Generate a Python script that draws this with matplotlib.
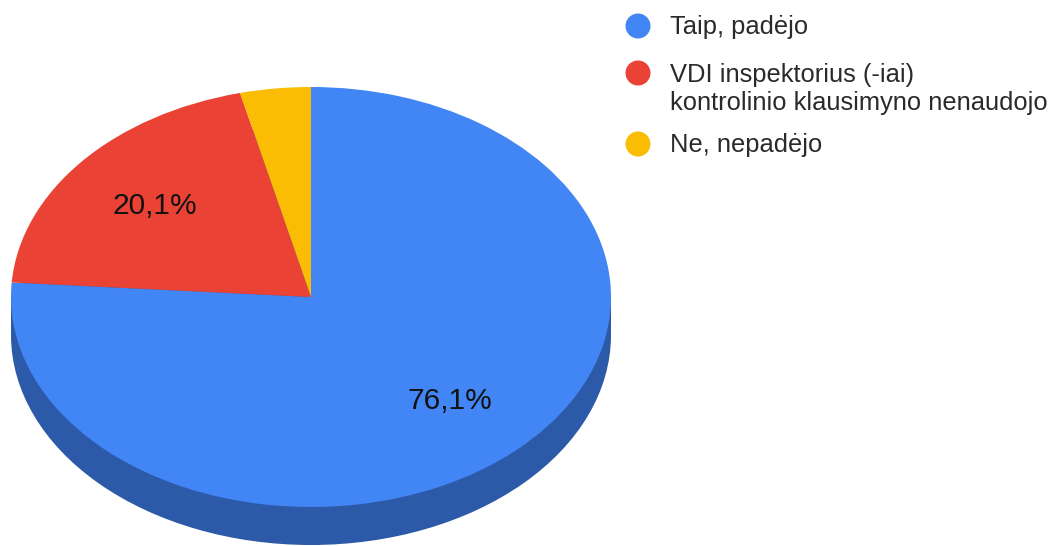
import matplotlib
matplotlib.use("Agg")
import matplotlib.pyplot as plt
from matplotlib.patches import Rectangle, Ellipse

W, H = 1055, 546
labels = ["Taip, padėjo", "VDI inspektorius (-iai)\nkontrolinio klausimyno nenaudojo", "Ne, nepadėjo"]
values = [76.1, 20.1, 3.8]
shown = ["76,1%", "20,1%", None]
colors = ["#4285F4", "#EA4335", "#FBBC04"]
side = "#2C5AA8"
plt.rcParams["font.family"] = ["Liberation Sans", "DejaVu Sans"]

fig = plt.figure(figsize=(W / 100, H / 100), dpi=100)
L, R, T, B = 11, 611, 87, 507
ax = fig.add_axes([L / W, 1 - B / H, (R - L) / W, (B - T) / H])
depth = 38 / ((B - T) / 2)

ax.add_patch(Ellipse((0, -depth), 2, 2, color=side, lw=0, clip_on=False, zorder=1))
ax.add_patch(Rectangle((-1, -depth), 2, depth, color=side, lw=0, clip_on=False, zorder=1))
wedges, _ = ax.pie(values, colors=colors, startangle=90, counterclock=False, radius=1,
                   wedgeprops=dict(lw=0, clip_on=False, zorder=2))
ax.set_aspect("auto")
ax.set_xlim(-1, 1)
ax.set_ylim(-1, 1)
ax.axis("off")

def px(x, y):
    return x / W, 1 - y / H

for s, (x, y) in zip(shown, [(450, 401), (155, 206), (0, 0)]):
    if s:
        fig.text(*px(x, y), s, ha="center", va="center", fontsize=21.5, color="#111111")

overlay = fig.add_axes([0, 0, 1, 1])
overlay.set_xlim(0, W)
overlay.set_ylim(H, 0)
overlay.axis("off")
overlay.patch.set_alpha(0)
for lab, c, y, ty in zip(labels, colors, [26, 73, 144], [27, 89, 145]):
    overlay.add_patch(Ellipse((638, y), 25, 25, color=c, lw=0))
    overlay.text(670, ty, lab, ha="left", va="center", fontsize=18.4, color="#2a2a2a", linespacing=1.2)

fig.savefig("out.png", dpi=100)
